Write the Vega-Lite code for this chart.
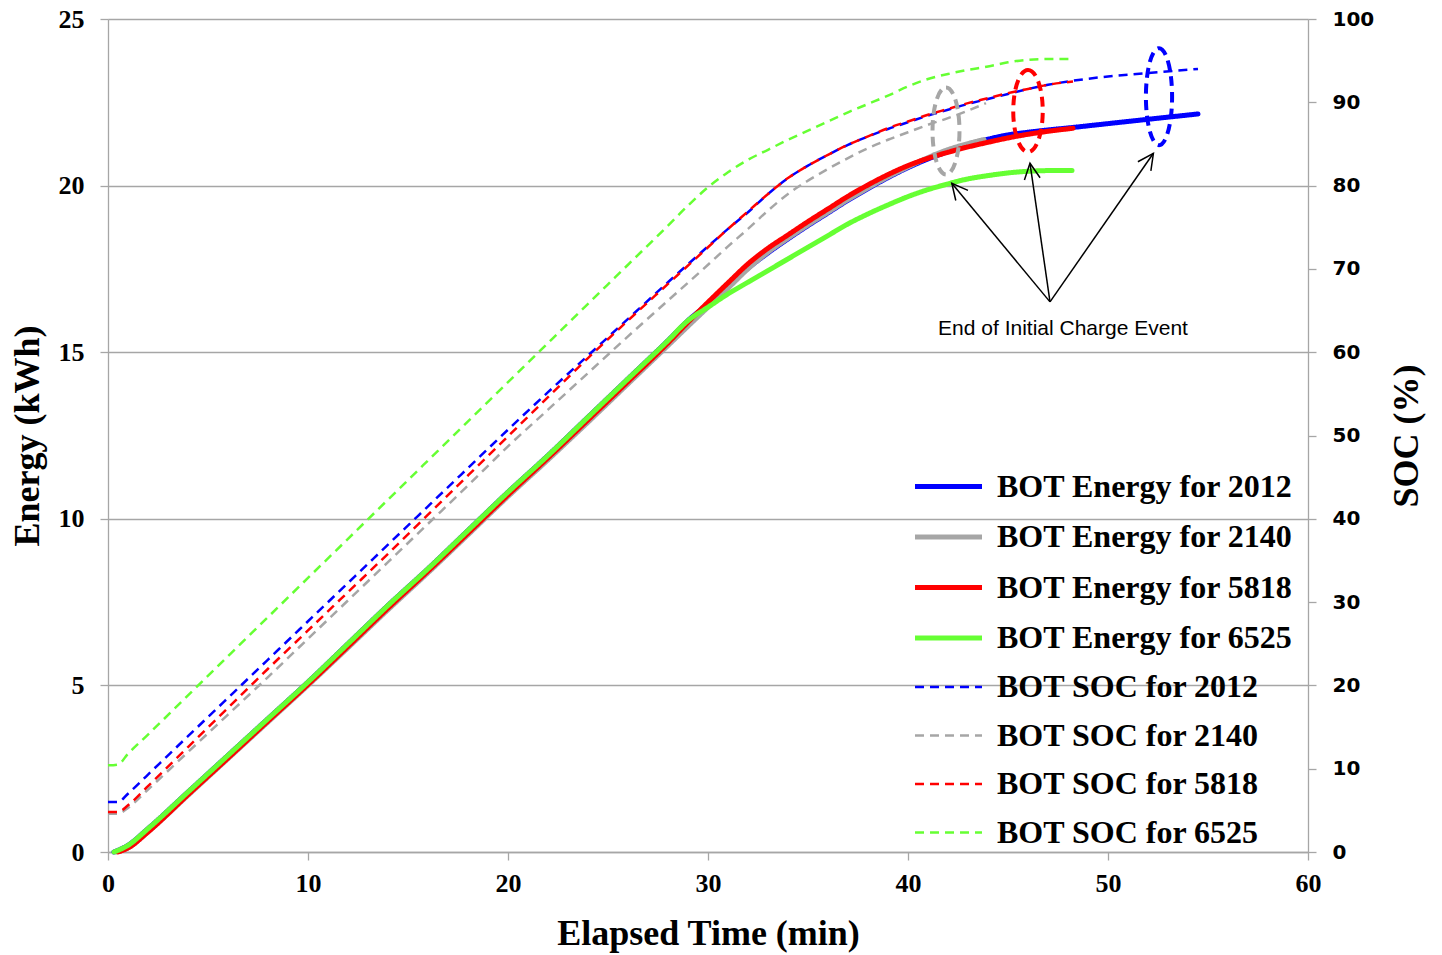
{
  "$schema": "https://vega.github.io/schema/vega-lite/v6.json",
  "width": 1200,
  "height": 833,
  "autosize": {"type": "none"},
  "padding": {"left": 108, "top": 19, "right": 134, "bottom": 103},
  "background": "white",
  "config": {
    "view": {"stroke": null},
    "axis": {
      "domainColor": "#a6a6a6", "tickColor": "#a6a6a6", "gridColor": "#a6a6a6",
      "domainWidth": 1.3, "tickWidth": 1.3, "gridWidth": 1.3, "tickSize": 8,
      "labelColor": "black", "titleColor": "black", "labelFlush": false, "labelOverlap": false
    },
    "legend": {
      "orient": "none", "legendX": 821, "legendY": 448, "title": null,
      "labelFont": "Liberation Serif", "labelFontSize": 32, "labelFontWeight": "bold", "labelColor": "black",
      "symbolType": "M -2 0 L 2 0", "symbolSize": 1122, "labelOffset": 29, "rowPadding": 14.5,
      "padding": 0, "labelLimit": 0
    }
  },
  "datasets": {
    "energy": [
      {"series": "BOT Energy for 2012", "time": 0.3, "energy": 0},
      {"series": "BOT Energy for 2012", "time": 1, "energy": 0.2},
      {"series": "BOT Energy for 2012", "time": 2, "energy": 0.7},
      {"series": "BOT Energy for 2012", "time": 4, "energy": 1.8},
      {"series": "BOT Energy for 2012", "time": 6, "energy": 2.9},
      {"series": "BOT Energy for 2012", "time": 8, "energy": 4.0},
      {"series": "BOT Energy for 2012", "time": 10, "energy": 5.1},
      {"series": "BOT Energy for 2012", "time": 12, "energy": 6.25},
      {"series": "BOT Energy for 2012", "time": 14, "energy": 7.4},
      {"series": "BOT Energy for 2012", "time": 16, "energy": 8.5},
      {"series": "BOT Energy for 2012", "time": 18, "energy": 9.65},
      {"series": "BOT Energy for 2012", "time": 20, "energy": 10.8},
      {"series": "BOT Energy for 2012", "time": 22, "energy": 11.9},
      {"series": "BOT Energy for 2012", "time": 24, "energy": 13.05},
      {"series": "BOT Energy for 2012", "time": 26, "energy": 14.2},
      {"series": "BOT Energy for 2012", "time": 28, "energy": 15.35},
      {"series": "BOT Energy for 2012", "time": 29, "energy": 15.95},
      {"series": "BOT Energy for 2012", "time": 30, "energy": 16.45},
      {"series": "BOT Energy for 2012", "time": 31, "energy": 17.0},
      {"series": "BOT Energy for 2012", "time": 32, "energy": 17.52},
      {"series": "BOT Energy for 2012", "time": 33, "energy": 17.98},
      {"series": "BOT Energy for 2012", "time": 34, "energy": 18.4},
      {"series": "BOT Energy for 2012", "time": 35, "energy": 18.8},
      {"series": "BOT Energy for 2012", "time": 36, "energy": 19.18},
      {"series": "BOT Energy for 2012", "time": 37, "energy": 19.56},
      {"series": "BOT Energy for 2012", "time": 38, "energy": 19.91},
      {"series": "BOT Energy for 2012", "time": 39, "energy": 20.24},
      {"series": "BOT Energy for 2012", "time": 40, "energy": 20.54},
      {"series": "BOT Energy for 2012", "time": 41, "energy": 20.8},
      {"series": "BOT Energy for 2012", "time": 42, "energy": 21.02},
      {"series": "BOT Energy for 2012", "time": 43, "energy": 21.22},
      {"series": "BOT Energy for 2012", "time": 44, "energy": 21.39},
      {"series": "BOT Energy for 2012", "time": 45, "energy": 21.52},
      {"series": "BOT Energy for 2012", "time": 46, "energy": 21.6},
      {"series": "BOT Energy for 2012", "time": 47, "energy": 21.67},
      {"series": "BOT Energy for 2012", "time": 48, "energy": 21.73},
      {"series": "BOT Energy for 2012", "time": 50, "energy": 21.86},
      {"series": "BOT Energy for 2012", "time": 52, "energy": 21.99},
      {"series": "BOT Energy for 2012", "time": 54.5, "energy": 22.15},

      {"series": "BOT Energy for 2140", "time": 0.4, "energy": 0},
      {"series": "BOT Energy for 2140", "time": 1, "energy": 0.12},
      {"series": "BOT Energy for 2140", "time": 2, "energy": 0.6},
      {"series": "BOT Energy for 2140", "time": 4, "energy": 1.7},
      {"series": "BOT Energy for 2140", "time": 6, "energy": 2.8},
      {"series": "BOT Energy for 2140", "time": 8, "energy": 3.9},
      {"series": "BOT Energy for 2140", "time": 10, "energy": 5.0},
      {"series": "BOT Energy for 2140", "time": 12, "energy": 6.13},
      {"series": "BOT Energy for 2140", "time": 14, "energy": 7.27},
      {"series": "BOT Energy for 2140", "time": 16, "energy": 8.38},
      {"series": "BOT Energy for 2140", "time": 18, "energy": 9.52},
      {"series": "BOT Energy for 2140", "time": 20, "energy": 10.67},
      {"series": "BOT Energy for 2140", "time": 22, "energy": 11.77},
      {"series": "BOT Energy for 2140", "time": 24, "energy": 12.9},
      {"series": "BOT Energy for 2140", "time": 26, "energy": 14.05},
      {"series": "BOT Energy for 2140", "time": 28, "energy": 15.2},
      {"series": "BOT Energy for 2140", "time": 29, "energy": 15.78},
      {"series": "BOT Energy for 2140", "time": 30, "energy": 16.35},
      {"series": "BOT Energy for 2140", "time": 31, "energy": 16.92},
      {"series": "BOT Energy for 2140", "time": 32, "energy": 17.5},
      {"series": "BOT Energy for 2140", "time": 33, "energy": 18.0},
      {"series": "BOT Energy for 2140", "time": 34, "energy": 18.42},
      {"series": "BOT Energy for 2140", "time": 35, "energy": 18.82},
      {"series": "BOT Energy for 2140", "time": 36, "energy": 19.2},
      {"series": "BOT Energy for 2140", "time": 37, "energy": 19.58},
      {"series": "BOT Energy for 2140", "time": 38, "energy": 19.93},
      {"series": "BOT Energy for 2140", "time": 39, "energy": 20.26},
      {"series": "BOT Energy for 2140", "time": 40, "energy": 20.56},
      {"series": "BOT Energy for 2140", "time": 41, "energy": 20.84},
      {"series": "BOT Energy for 2140", "time": 42, "energy": 21.08},
      {"series": "BOT Energy for 2140", "time": 43, "energy": 21.26},
      {"series": "BOT Energy for 2140", "time": 43.8, "energy": 21.38},

      {"series": "BOT Energy for 5818", "time": 0.5, "energy": 0},
      {"series": "BOT Energy for 5818", "time": 1, "energy": 0.12},
      {"series": "BOT Energy for 5818", "time": 2, "energy": 0.6},
      {"series": "BOT Energy for 5818", "time": 4, "energy": 1.72},
      {"series": "BOT Energy for 5818", "time": 6, "energy": 2.82},
      {"series": "BOT Energy for 5818", "time": 8, "energy": 3.93},
      {"series": "BOT Energy for 5818", "time": 10, "energy": 5.03},
      {"series": "BOT Energy for 5818", "time": 12, "energy": 6.17},
      {"series": "BOT Energy for 5818", "time": 14, "energy": 7.32},
      {"series": "BOT Energy for 5818", "time": 16, "energy": 8.43},
      {"series": "BOT Energy for 5818", "time": 18, "energy": 9.57},
      {"series": "BOT Energy for 5818", "time": 20, "energy": 10.72},
      {"series": "BOT Energy for 5818", "time": 22, "energy": 11.83},
      {"series": "BOT Energy for 5818", "time": 24, "energy": 12.97},
      {"series": "BOT Energy for 5818", "time": 26, "energy": 14.12},
      {"series": "BOT Energy for 5818", "time": 28, "energy": 15.28},
      {"series": "BOT Energy for 5818", "time": 29, "energy": 15.9},
      {"series": "BOT Energy for 5818", "time": 30, "energy": 16.5},
      {"series": "BOT Energy for 5818", "time": 31, "energy": 17.08},
      {"series": "BOT Energy for 5818", "time": 32, "energy": 17.65},
      {"series": "BOT Energy for 5818", "time": 33, "energy": 18.12},
      {"series": "BOT Energy for 5818", "time": 34, "energy": 18.52},
      {"series": "BOT Energy for 5818", "time": 35, "energy": 18.92},
      {"series": "BOT Energy for 5818", "time": 36, "energy": 19.3},
      {"series": "BOT Energy for 5818", "time": 37, "energy": 19.68},
      {"series": "BOT Energy for 5818", "time": 38, "energy": 20.02},
      {"series": "BOT Energy for 5818", "time": 39, "energy": 20.33},
      {"series": "BOT Energy for 5818", "time": 40, "energy": 20.6},
      {"series": "BOT Energy for 5818", "time": 41, "energy": 20.82},
      {"series": "BOT Energy for 5818", "time": 42, "energy": 21.0},
      {"series": "BOT Energy for 5818", "time": 43, "energy": 21.16},
      {"series": "BOT Energy for 5818", "time": 44, "energy": 21.3},
      {"series": "BOT Energy for 5818", "time": 45, "energy": 21.43},
      {"series": "BOT Energy for 5818", "time": 46, "energy": 21.54},
      {"series": "BOT Energy for 5818", "time": 47, "energy": 21.63},
      {"series": "BOT Energy for 5818", "time": 48.25, "energy": 21.72},

      {"series": "BOT Energy for 6525", "time": 0.3, "energy": 0},
      {"series": "BOT Energy for 6525", "time": 1, "energy": 0.2},
      {"series": "BOT Energy for 6525", "time": 2, "energy": 0.7},
      {"series": "BOT Energy for 6525", "time": 4, "energy": 1.8},
      {"series": "BOT Energy for 6525", "time": 6, "energy": 2.9},
      {"series": "BOT Energy for 6525", "time": 8, "energy": 4.0},
      {"series": "BOT Energy for 6525", "time": 10, "energy": 5.1},
      {"series": "BOT Energy for 6525", "time": 12, "energy": 6.25},
      {"series": "BOT Energy for 6525", "time": 14, "energy": 7.4},
      {"series": "BOT Energy for 6525", "time": 16, "energy": 8.5},
      {"series": "BOT Energy for 6525", "time": 18, "energy": 9.65},
      {"series": "BOT Energy for 6525", "time": 20, "energy": 10.8},
      {"series": "BOT Energy for 6525", "time": 22, "energy": 11.9},
      {"series": "BOT Energy for 6525", "time": 24, "energy": 13.05},
      {"series": "BOT Energy for 6525", "time": 26, "energy": 14.2},
      {"series": "BOT Energy for 6525", "time": 28, "energy": 15.35},
      {"series": "BOT Energy for 6525", "time": 29, "energy": 15.95},
      {"series": "BOT Energy for 6525", "time": 30, "energy": 16.35},
      {"series": "BOT Energy for 6525", "time": 31, "energy": 16.75},
      {"series": "BOT Energy for 6525", "time": 32, "energy": 17.1},
      {"series": "BOT Energy for 6525", "time": 33, "energy": 17.45},
      {"series": "BOT Energy for 6525", "time": 34, "energy": 17.8},
      {"series": "BOT Energy for 6525", "time": 35, "energy": 18.15},
      {"series": "BOT Energy for 6525", "time": 36, "energy": 18.5},
      {"series": "BOT Energy for 6525", "time": 37, "energy": 18.85},
      {"series": "BOT Energy for 6525", "time": 38, "energy": 19.15},
      {"series": "BOT Energy for 6525", "time": 39, "energy": 19.42},
      {"series": "BOT Energy for 6525", "time": 40, "energy": 19.67},
      {"series": "BOT Energy for 6525", "time": 41, "energy": 19.88},
      {"series": "BOT Energy for 6525", "time": 42, "energy": 20.05},
      {"series": "BOT Energy for 6525", "time": 43, "energy": 20.2},
      {"series": "BOT Energy for 6525", "time": 44, "energy": 20.3},
      {"series": "BOT Energy for 6525", "time": 45, "energy": 20.38},
      {"series": "BOT Energy for 6525", "time": 46, "energy": 20.43},
      {"series": "BOT Energy for 6525", "time": 47, "energy": 20.45},
      {"series": "BOT Energy for 6525", "time": 48.2, "energy": 20.45}
    ],
    "soc": [
      {"series": "BOT SOC for 2012", "time": 0, "soc": 6.0},
      {"series": "BOT SOC for 2012", "time": 0.5, "soc": 6.0},
      {"series": "BOT SOC for 2012", "time": 1, "soc": 7.0},
      {"series": "BOT SOC for 2012", "time": 2, "soc": 9.3},
      {"series": "BOT SOC for 2012", "time": 4, "soc": 13.9},
      {"series": "BOT SOC for 2012", "time": 6, "soc": 18.5},
      {"series": "BOT SOC for 2012", "time": 8, "soc": 23.1},
      {"series": "BOT SOC for 2012", "time": 10, "soc": 27.7},
      {"series": "BOT SOC for 2012", "time": 12, "soc": 32.3},
      {"series": "BOT SOC for 2012", "time": 14, "soc": 36.9},
      {"series": "BOT SOC for 2012", "time": 16, "soc": 41.5},
      {"series": "BOT SOC for 2012", "time": 18, "soc": 46.1},
      {"series": "BOT SOC for 2012", "time": 20, "soc": 50.7},
      {"series": "BOT SOC for 2012", "time": 22, "soc": 55.2},
      {"series": "BOT SOC for 2012", "time": 24, "soc": 59.6},
      {"series": "BOT SOC for 2012", "time": 26, "soc": 64.0},
      {"series": "BOT SOC for 2012", "time": 28, "soc": 68.4},
      {"series": "BOT SOC for 2012", "time": 30, "soc": 72.7},
      {"series": "BOT SOC for 2012", "time": 31, "soc": 74.8},
      {"series": "BOT SOC for 2012", "time": 32, "soc": 76.8},
      {"series": "BOT SOC for 2012", "time": 33, "soc": 79.0},
      {"series": "BOT SOC for 2012", "time": 34, "soc": 80.9},
      {"series": "BOT SOC for 2012", "time": 35, "soc": 82.4},
      {"series": "BOT SOC for 2012", "time": 36, "soc": 83.7},
      {"series": "BOT SOC for 2012", "time": 37, "soc": 84.9},
      {"series": "BOT SOC for 2012", "time": 38, "soc": 85.9},
      {"series": "BOT SOC for 2012", "time": 39, "soc": 86.8},
      {"series": "BOT SOC for 2012", "time": 40, "soc": 87.6},
      {"series": "BOT SOC for 2012", "time": 41, "soc": 88.4},
      {"series": "BOT SOC for 2012", "time": 42, "soc": 89.1},
      {"series": "BOT SOC for 2012", "time": 43, "soc": 89.8},
      {"series": "BOT SOC for 2012", "time": 44, "soc": 90.4},
      {"series": "BOT SOC for 2012", "time": 45, "soc": 91.0},
      {"series": "BOT SOC for 2012", "time": 46, "soc": 91.6},
      {"series": "BOT SOC for 2012", "time": 47, "soc": 92.1},
      {"series": "BOT SOC for 2012", "time": 48, "soc": 92.5},
      {"series": "BOT SOC for 2012", "time": 50, "soc": 93.1},
      {"series": "BOT SOC for 2012", "time": 52, "soc": 93.5},
      {"series": "BOT SOC for 2012", "time": 54.5, "soc": 94.0},

      {"series": "BOT SOC for 2140", "time": 0, "soc": 4.6},
      {"series": "BOT SOC for 2140", "time": 0.5, "soc": 4.6},
      {"series": "BOT SOC for 2140", "time": 1, "soc": 5.3},
      {"series": "BOT SOC for 2140", "time": 2, "soc": 7.5},
      {"series": "BOT SOC for 2140", "time": 4, "soc": 12.0},
      {"series": "BOT SOC for 2140", "time": 6, "soc": 16.5},
      {"series": "BOT SOC for 2140", "time": 8, "soc": 21.0},
      {"series": "BOT SOC for 2140", "time": 10, "soc": 25.6},
      {"series": "BOT SOC for 2140", "time": 12, "soc": 30.2},
      {"series": "BOT SOC for 2140", "time": 14, "soc": 34.8},
      {"series": "BOT SOC for 2140", "time": 16, "soc": 39.4},
      {"series": "BOT SOC for 2140", "time": 18, "soc": 44.0},
      {"series": "BOT SOC for 2140", "time": 20, "soc": 48.7},
      {"series": "BOT SOC for 2140", "time": 22, "soc": 53.1},
      {"series": "BOT SOC for 2140", "time": 24, "soc": 57.5},
      {"series": "BOT SOC for 2140", "time": 26, "soc": 61.9},
      {"series": "BOT SOC for 2140", "time": 28, "soc": 66.2},
      {"series": "BOT SOC for 2140", "time": 30, "soc": 70.5},
      {"series": "BOT SOC for 2140", "time": 31, "soc": 72.7},
      {"series": "BOT SOC for 2140", "time": 32, "soc": 74.8},
      {"series": "BOT SOC for 2140", "time": 33, "soc": 77.0},
      {"series": "BOT SOC for 2140", "time": 34, "soc": 79.0},
      {"series": "BOT SOC for 2140", "time": 35, "soc": 80.6},
      {"series": "BOT SOC for 2140", "time": 36, "soc": 82.0},
      {"series": "BOT SOC for 2140", "time": 37, "soc": 83.3},
      {"series": "BOT SOC for 2140", "time": 38, "soc": 84.5},
      {"series": "BOT SOC for 2140", "time": 39, "soc": 85.5},
      {"series": "BOT SOC for 2140", "time": 40, "soc": 86.4},
      {"series": "BOT SOC for 2140", "time": 41, "soc": 87.3},
      {"series": "BOT SOC for 2140", "time": 42, "soc": 88.1},
      {"series": "BOT SOC for 2140", "time": 43, "soc": 89.0},
      {"series": "BOT SOC for 2140", "time": 43.9, "soc": 89.9},

      {"series": "BOT SOC for 5818", "time": 0, "soc": 4.8},
      {"series": "BOT SOC for 5818", "time": 0.5, "soc": 4.8},
      {"series": "BOT SOC for 5818", "time": 1, "soc": 5.6},
      {"series": "BOT SOC for 5818", "time": 2, "soc": 7.9},
      {"series": "BOT SOC for 5818", "time": 4, "soc": 12.6},
      {"series": "BOT SOC for 5818", "time": 6, "soc": 17.3},
      {"series": "BOT SOC for 5818", "time": 8, "soc": 22.0},
      {"series": "BOT SOC for 5818", "time": 10, "soc": 26.6},
      {"series": "BOT SOC for 5818", "time": 12, "soc": 31.2},
      {"series": "BOT SOC for 5818", "time": 14, "soc": 35.8},
      {"series": "BOT SOC for 5818", "time": 16, "soc": 40.5},
      {"series": "BOT SOC for 5818", "time": 18, "soc": 45.2},
      {"series": "BOT SOC for 5818", "time": 20, "soc": 49.9},
      {"series": "BOT SOC for 5818", "time": 22, "soc": 54.6},
      {"series": "BOT SOC for 5818", "time": 24, "soc": 59.3},
      {"series": "BOT SOC for 5818", "time": 26, "soc": 63.8},
      {"series": "BOT SOC for 5818", "time": 28, "soc": 68.2},
      {"series": "BOT SOC for 5818", "time": 30, "soc": 72.6},
      {"series": "BOT SOC for 5818", "time": 31, "soc": 74.8},
      {"series": "BOT SOC for 5818", "time": 32, "soc": 76.9},
      {"series": "BOT SOC for 5818", "time": 33, "soc": 79.0},
      {"series": "BOT SOC for 5818", "time": 34, "soc": 80.9},
      {"series": "BOT SOC for 5818", "time": 35, "soc": 82.4},
      {"series": "BOT SOC for 5818", "time": 36, "soc": 83.7},
      {"series": "BOT SOC for 5818", "time": 37, "soc": 84.9},
      {"series": "BOT SOC for 5818", "time": 38, "soc": 85.9},
      {"series": "BOT SOC for 5818", "time": 39, "soc": 86.9},
      {"series": "BOT SOC for 5818", "time": 40, "soc": 87.7},
      {"series": "BOT SOC for 5818", "time": 41, "soc": 88.5},
      {"series": "BOT SOC for 5818", "time": 42, "soc": 89.2},
      {"series": "BOT SOC for 5818", "time": 43, "soc": 89.9},
      {"series": "BOT SOC for 5818", "time": 44, "soc": 90.5},
      {"series": "BOT SOC for 5818", "time": 45, "soc": 91.1},
      {"series": "BOT SOC for 5818", "time": 46, "soc": 91.6},
      {"series": "BOT SOC for 5818", "time": 47, "soc": 92.1},
      {"series": "BOT SOC for 5818", "time": 48.25, "soc": 92.5},

      {"series": "BOT SOC for 6525", "time": 0, "soc": 10.4},
      {"series": "BOT SOC for 6525", "time": 0.5, "soc": 10.5},
      {"series": "BOT SOC for 6525", "time": 1, "soc": 11.8},
      {"series": "BOT SOC for 6525", "time": 2, "soc": 14.1},
      {"series": "BOT SOC for 6525", "time": 4, "soc": 18.8},
      {"series": "BOT SOC for 6525", "time": 6, "soc": 23.5},
      {"series": "BOT SOC for 6525", "time": 8, "soc": 28.2},
      {"series": "BOT SOC for 6525", "time": 10, "soc": 32.9},
      {"series": "BOT SOC for 6525", "time": 12, "soc": 37.6},
      {"series": "BOT SOC for 6525", "time": 14, "soc": 42.3},
      {"series": "BOT SOC for 6525", "time": 16, "soc": 47.0},
      {"series": "BOT SOC for 6525", "time": 18, "soc": 51.7},
      {"series": "BOT SOC for 6525", "time": 20, "soc": 56.4},
      {"series": "BOT SOC for 6525", "time": 22, "soc": 61.1},
      {"series": "BOT SOC for 6525", "time": 24, "soc": 65.8},
      {"series": "BOT SOC for 6525", "time": 26, "soc": 70.5},
      {"series": "BOT SOC for 6525", "time": 28, "soc": 75.2},
      {"series": "BOT SOC for 6525", "time": 29, "soc": 77.6},
      {"series": "BOT SOC for 6525", "time": 30, "soc": 79.8},
      {"series": "BOT SOC for 6525", "time": 31, "soc": 81.6},
      {"series": "BOT SOC for 6525", "time": 32, "soc": 83.1},
      {"series": "BOT SOC for 6525", "time": 33, "soc": 84.3},
      {"series": "BOT SOC for 6525", "time": 34, "soc": 85.5},
      {"series": "BOT SOC for 6525", "time": 35, "soc": 86.6},
      {"series": "BOT SOC for 6525", "time": 36, "soc": 87.7},
      {"series": "BOT SOC for 6525", "time": 37, "soc": 88.8},
      {"series": "BOT SOC for 6525", "time": 38, "soc": 89.8},
      {"series": "BOT SOC for 6525", "time": 39, "soc": 90.8},
      {"series": "BOT SOC for 6525", "time": 40, "soc": 91.9},
      {"series": "BOT SOC for 6525", "time": 41, "soc": 92.8},
      {"series": "BOT SOC for 6525", "time": 42, "soc": 93.4},
      {"series": "BOT SOC for 6525", "time": 43, "soc": 93.9},
      {"series": "BOT SOC for 6525", "time": 44, "soc": 94.3},
      {"series": "BOT SOC for 6525", "time": 45, "soc": 94.8},
      {"series": "BOT SOC for 6525", "time": 46, "soc": 95.1},
      {"series": "BOT SOC for 6525", "time": 47, "soc": 95.2},
      {"series": "BOT SOC for 6525", "time": 48.2, "soc": 95.2}
    ]
  },
  "resolve": {"scale": {"y": "independent"}},
  "layer": [
    {
      "data": {"name": "soc"},
      "mark": {"type": "line", "interpolate": "monotone"},
      "encoding": {
        "x": {"field": "time", "type": "quantitative", "scale": {"domain": [0, 60], "nice": false},
              "axis": {"values": [0, 10, 20, 30, 40, 50, 60], "grid": false, "title": "Elapsed Time (min)",
                       "labelFont": "Liberation Serif", "labelFontSize": 26, "labelFontWeight": "bold", "labelPadding": 10,
                       "titleFont": "Liberation Serif", "titleFontSize": 36, "titleFontWeight": "bold", "titlePadding": 20}},
        "y": {"field": "soc", "type": "quantitative", "scale": {"domain": [0, 100], "nice": false},
              "axis": {"orient": "right", "values": [0, 10, 20, 30, 40, 50, 60, 70, 80, 90, 100], "grid": false, "title": "SOC (%)",
                       "labelFont": "DejaVu Sans", "labelFontSize": 20, "labelFontWeight": "bold", "labelPadding": 16,
                       "titleFont": "Liberation Serif", "titleFontSize": 36, "titleFontWeight": "bold", "titleAngle": -90, "titleBaseline": "top", "titlePadding": 16}},
        "color": {"field": "series", "type": "nominal",
                  "scale": {"domain": ["BOT Energy for 2012", "BOT Energy for 2140", "BOT Energy for 5818", "BOT Energy for 6525", "BOT SOC for 2012", "BOT SOC for 2140", "BOT SOC for 5818", "BOT SOC for 6525"],
                            "range": ["#0000ff", "#a6a6a6", "#ff0000", "#66ff33", "#0000ff", "#a6a6a6", "#ff0000", "#66ff33"]},
                  "legend": {"title": null}},
        "strokeDash": {"field": "series", "type": "nominal",
                  "scale": {"domain": ["BOT Energy for 2012", "BOT Energy for 2140", "BOT Energy for 5818", "BOT Energy for 6525", "BOT SOC for 2012", "BOT SOC for 2140", "BOT SOC for 5818", "BOT SOC for 6525"],
                            "range": [[1, 0], [1, 0], [1, 0], [1, 0], [9, 6], [9, 6], [9, 6], [9, 6]]},
                  "legend": {"title": null}},
        "strokeWidth": {"field": "series", "type": "nominal",
                  "scale": {"type": "ordinal", "domain": ["BOT Energy for 2012", "BOT Energy for 2140", "BOT Energy for 5818", "BOT Energy for 6525", "BOT SOC for 2012", "BOT SOC for 2140", "BOT SOC for 5818", "BOT SOC for 6525"],
                            "range": [5, 5, 5, 5, 2.5, 2.5, 2.5, 2.5]},
                  "legend": {"title": null}}
      }
    },
    {
      "layer": [
        {
          "data": {"name": "energy"},
          "mark": {"type": "line", "interpolate": "monotone", "strokeCap": "round"},
          "encoding": {
            "x": {"field": "time", "type": "quantitative", "scale": {"domain": [0, 60], "nice": false}},
            "y": {"field": "energy", "type": "quantitative", "scale": {"domain": [0, 25], "nice": false},
                  "axis": {"orient": "left", "values": [0, 5, 10, 15, 20, 25], "grid": true, "title": "Energy (kWh)",
                           "labelFont": "Liberation Serif", "labelFontSize": 26, "labelFontWeight": "bold", "labelPadding": 16,
                           "titleFont": "Liberation Serif", "titleFontSize": 36, "titleFontWeight": "bold", "titlePadding": 12}},
            "color": {"field": "series", "type": "nominal",
                      "scale": {"domain": ["BOT Energy for 2012", "BOT Energy for 2140", "BOT Energy for 5818", "BOT Energy for 6525", "BOT SOC for 2012", "BOT SOC for 2140", "BOT SOC for 5818", "BOT SOC for 6525"],
                                "range": ["#0000ff", "#a6a6a6", "#ff0000", "#66ff33", "#0000ff", "#a6a6a6", "#ff0000", "#66ff33"]},
                      "legend": {"title": null}},
            "strokeDash": {"field": "series", "type": "nominal",
                      "scale": {"domain": ["BOT Energy for 2012", "BOT Energy for 2140", "BOT Energy for 5818", "BOT Energy for 6525", "BOT SOC for 2012", "BOT SOC for 2140", "BOT SOC for 5818", "BOT SOC for 6525"],
                                "range": [[1, 0], [1, 0], [1, 0], [1, 0], [9, 6], [9, 6], [9, 6], [9, 6]]},
                      "legend": {"title": null}},
            "strokeWidth": {"field": "series", "type": "nominal",
                      "scale": {"type": "ordinal", "domain": ["BOT Energy for 2012", "BOT Energy for 2140", "BOT Energy for 5818", "BOT Energy for 6525", "BOT SOC for 2012", "BOT SOC for 2140", "BOT SOC for 5818", "BOT SOC for 6525"],
                                "range": [5, 5, 5, 5, 2.5, 2.5, 2.5, 2.5]},
                      "legend": {"title": null}}
          }
        },
        {
          "data": {"values": [{"time": 41.9, "energy": 21.64}]},
          "mark": {"type": "point", "shape": "M 0 -1 A 0.31 1 0 0 1 0 1 A 0.31 1 0 0 1 0 -1 Z", "size": 7569, "filled": false, "stroke": "#a6a6a6", "strokeWidth": 4, "strokeDash": [10, 6], "opacity": 1},
          "encoding": {"x": {"field": "time", "type": "quantitative"}, "y": {"field": "energy", "type": "quantitative"}}
        },
        {
          "data": {"values": [{"time": 46.0, "energy": 22.24}]},
          "mark": {"type": "point", "shape": "M 0 -1 A 0.36 1 0 0 1 0 1 A 0.36 1 0 0 1 0 -1 Z", "size": 6724, "filled": false, "stroke": "#ff0000", "strokeWidth": 4, "strokeDash": [10, 6], "opacity": 1},
          "encoding": {"x": {"field": "time", "type": "quantitative"}, "y": {"field": "energy", "type": "quantitative"}}
        },
        {
          "data": {"values": [{"time": 52.55, "energy": 22.67}]},
          "mark": {"type": "point", "shape": "M 0 -1 A 0.27 1 0 0 1 0 1 A 0.27 1 0 0 1 0 -1 Z", "size": 9409, "filled": false, "stroke": "#0000ff", "strokeWidth": 4, "strokeDash": [10, 6], "opacity": 1},
          "encoding": {"x": {"field": "time", "type": "quantitative"}, "y": {"field": "energy", "type": "quantitative"}}
        },
        {
          "data": {"values": [
            {"time": 47.1, "energy": 16.51, "time2": 42.19, "energy2": 20.07},
            {"time": 47.1, "energy": 16.51, "time2": 46.1, "energy2": 20.67},
            {"time": 47.1, "energy": 16.51, "time2": 52.27, "energy2": 20.97}
          ]},
          "mark": {"type": "rule", "color": "black", "strokeWidth": 1.5},
          "encoding": {"x": {"field": "time", "type": "quantitative"}, "y": {"field": "energy", "type": "quantitative"},
                       "x2": {"field": "time2"}, "y2": {"field": "energy2"}}
        },
        {
          "data": {"values": [{"time": 42.19, "energy": 20.07}]},
          "mark": {"type": "point", "shape": "M -0.5 1 L 0 0 L 0.5 1", "size": 1000, "filled": false, "stroke": "black", "strokeWidth": 1.5, "angle": 320.4, "opacity": 1},
          "encoding": {"x": {"field": "time", "type": "quantitative"}, "y": {"field": "energy", "type": "quantitative"}}
        },
        {
          "data": {"values": [{"time": 46.1, "energy": 20.67}]},
          "mark": {"type": "point", "shape": "M -0.5 1 L 0 0 L 0.5 1", "size": 1000, "filled": false, "stroke": "black", "strokeWidth": 1.5, "angle": 351.8, "opacity": 1},
          "encoding": {"x": {"field": "time", "type": "quantitative"}, "y": {"field": "energy", "type": "quantitative"}}
        },
        {
          "data": {"values": [{"time": 52.27, "energy": 20.97}]},
          "mark": {"type": "point", "shape": "M -0.5 1 L 0 0 L 0.5 1", "size": 1000, "filled": false, "stroke": "black", "strokeWidth": 1.5, "angle": 34.8, "opacity": 1},
          "encoding": {"x": {"field": "time", "type": "quantitative"}, "y": {"field": "energy", "type": "quantitative"}}
        },
        {
          "data": {"values": [{"time": 47.75, "energy": 15.7, "label": "End of Initial Charge Event"}]},
          "mark": {"type": "text", "font": "Liberation Sans", "fontSize": 21, "color": "black", "align": "center", "baseline": "middle"},
          "encoding": {"x": {"field": "time", "type": "quantitative"}, "y": {"field": "energy", "type": "quantitative"}, "text": {"field": "label"}}
        }
      ]
    }
  ]
}
